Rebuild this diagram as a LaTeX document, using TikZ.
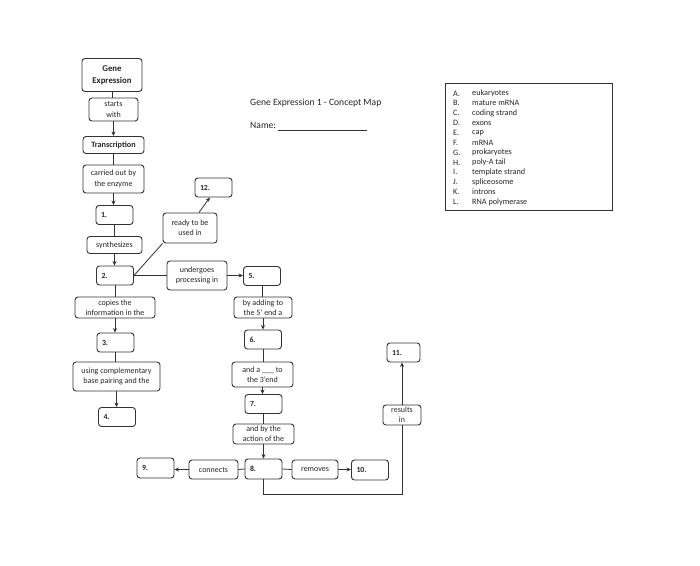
\documentclass[tikz,border=0pt]{standalone}
\usepackage{fontspec}
\setmainfont{Carlito}
\usetikzlibrary{arrows.meta}
\begin{document}
\begin{tikzpicture}[x=1pt,y=-1pt,
  box/.style={draw=black!80,line width=0.9pt,rounded corners=3pt,align=center,inner sep=1pt,
    font=\fontsize{8}{10.3}\selectfont,text=black!85},
  wh/.style 2 args={minimum width=#1pt,minimum height=#2pt},
  numbox/.style={box,align=left,text width=27pt,inner xsep=5pt,minimum height=19pt,
    font=\fontsize{7.8}{8.6}\selectfont\bfseries},
  conn/.style={draw=black!80,line width=0.8pt},
  arr/.style={conn,-{Stealth[length=4.5pt,width=4pt]}},
  plain/.style={anchor=west,inner sep=0pt,text=black!85},
]
\useasboundingbox (0,0) rectangle (700,565);
\fill[white] (0,0) rectangle (700,565);

% left column
\node[box,wh={60}{33},font=\fontsize{8.8}{11.8}\selectfont\bfseries] (ge) at (112,75) {Gene\\Expression};
\node[box,wh={49}{23}] (sw) at (113.5,109.5) {starts\\with};
\node[box,wh={61}{17},font=\fontsize{8.2}{9}\selectfont\bfseries] (tr) at (113.5,145) {Transcription};
\node[box,wh={61}{28}] (co) at (113.5,179) {carried out by\\the enzyme};
\node[numbox] (n1) at (114.5,215) {1.};
\node[box,wh={55}{17}] (sy) at (114.5,245) {synthesizes};
\node[numbox] (n2) at (115,275.5) {2.};
\node[box,wh={80}{21}] (cp) at (115,307.5) {copies the\\information in the};
\node[numbox] (n3) at (115.5,342.5) {3.};
\node[box,wh={87}{29}] (us) at (116.5,376.5) {using complementary\\base pairing and the};
\node[numbox] (n4) at (117,417) {4.};

% middle
\node[numbox] (n12) at (213.5,187.5) {12.};
\node[box,wh={54}{30}] (rd) at (190,228) {ready to be\\used in};
\node[box,wh={60}{29}] (up) at (197,275.5) {undergoes\\processing in};

% right column
\node[numbox] (n5) at (262,276) {5.};
\node[box,wh={58}{21}] (ba) at (263,307.5) {by adding to\\the 5' end a};
\node[numbox] (n6) at (263,339.5) {6.};
\node[box,wh={61}{25}] (aa) at (262.5,374.5) {and a \_\_\_ to\\the 3'end};
\node[numbox] (n7) at (263.5,404) {7.};
\node[box,wh={61}{20}] (ab) at (263.5,434) {and by the\\action of the};
\node[numbox,minimum height=20pt] (n8) at (263.5,469) {8.};
\node[box,wh={49}{19}] (cn) at (213.5,469.5) {connects};
\node[numbox,minimum height=20pt] (n9) at (155.5,468) {9.};
\node[box,wh={46}{19}] (rm) at (315,469.5) {removes};
\node[numbox,minimum height=20pt] (n10) at (370,470) {10.};
\node[box,wh={38}{20}] (ri) at (402,415) {results\\in};
\node[numbox,text width=23pt] (n11) at (403.5,352.5) {11.};

% connectors
\draw[conn] (ge.south) -- (ge.south |- sw.north);
\draw[arr] (sw.south) -- (sw.south |- tr.north);
\draw[conn] (tr.south) -- (tr.south |- co.north);
\draw[arr] (co.south) -- (co.south |- n1.north);
\draw[conn] (n1.south) -- (n1.south |- sy.north);
\draw[arr] (sy.south) -- (sy.south |- n2.north);
\draw[conn] (n2.south) -- (n2.south |- cp.north);
\draw[arr] (cp.south) -- (cp.south |- n3.north);
\draw[conn] (n3.south) -- (n3.south |- us.north);
\draw[arr] (us.south) -- (us.south |- n4.north);

\draw[conn] (n2.east) -- (rd.south west);
\draw[arr] (rd.60) -- (n12.250);
\draw[conn] (n2.east) -- (n2.east -| up.west);
\draw[arr] (up.east) -- (up.east -| n5.west);

\draw[conn] (n5.south) -- (n5.south |- ba.north);
\draw[arr] (ba.south) -- (ba.south |- n6.north);
\draw[conn] (n6.south) -- (n6.south |- aa.north);
\draw[arr] (aa.south) -- (aa.south |- n7.north);
\draw[conn] (n7.south) -- (n7.south |- ab.north);
\draw[arr] (ab.south) -- (ab.south |- n8.north);

\draw[conn] (n8.west) -- (cn.east);
\draw[arr] (cn.west) -- (cn.west -| n9.east);
\draw[conn] (n8.east) -- (rm.west);
\draw[arr] (rm.east) -- (rm.east -| n10.west);
\draw[conn] (n8.south) -- ++(0,15) -| (ri.south);
\draw[arr] (ri.north) -- (ri.north |- n11.south);

% title
\node[plain,font=\fontsize{9.6}{11}\selectfont] (ttl) at (250,102.5) {Gene Expression 1 - Concept Map};
\node[plain,font=\fontsize{9.6}{11}\selectfont] (nm) at (250,125) {Name:};
\coordinate (nmst) at (278,130);
\coordinate (nmend) at (367,130);
\draw[black!80,line width=0.7pt] (nmst) -- (nmend);

% legend
\node[draw=black!80,line width=0.9pt,minimum width=167pt,minimum height=127pt,inner sep=0pt] (lg) at (528.5,146.5) {};
\foreach \l/\t [count=\i from 0] in {A./eukaryotes,B./mature mRNA,C./coding strand,D./exons,E./cap,F./mRNA,G./prokaryotes,H./poly-A tail,I./template strand,J./spliceosome,K./introns,L./RNA polymerase}{
  \node[plain,font=\fontsize{8.2}{9}\selectfont] (lk\i) at (453,93.5+9.86*\i) {\l};
  \node[plain,font=\fontsize{8.2}{9}\selectfont] (lt\i) at (472,93.5+9.86*\i) {\t};
}
\end{tikzpicture}
\end{document}
